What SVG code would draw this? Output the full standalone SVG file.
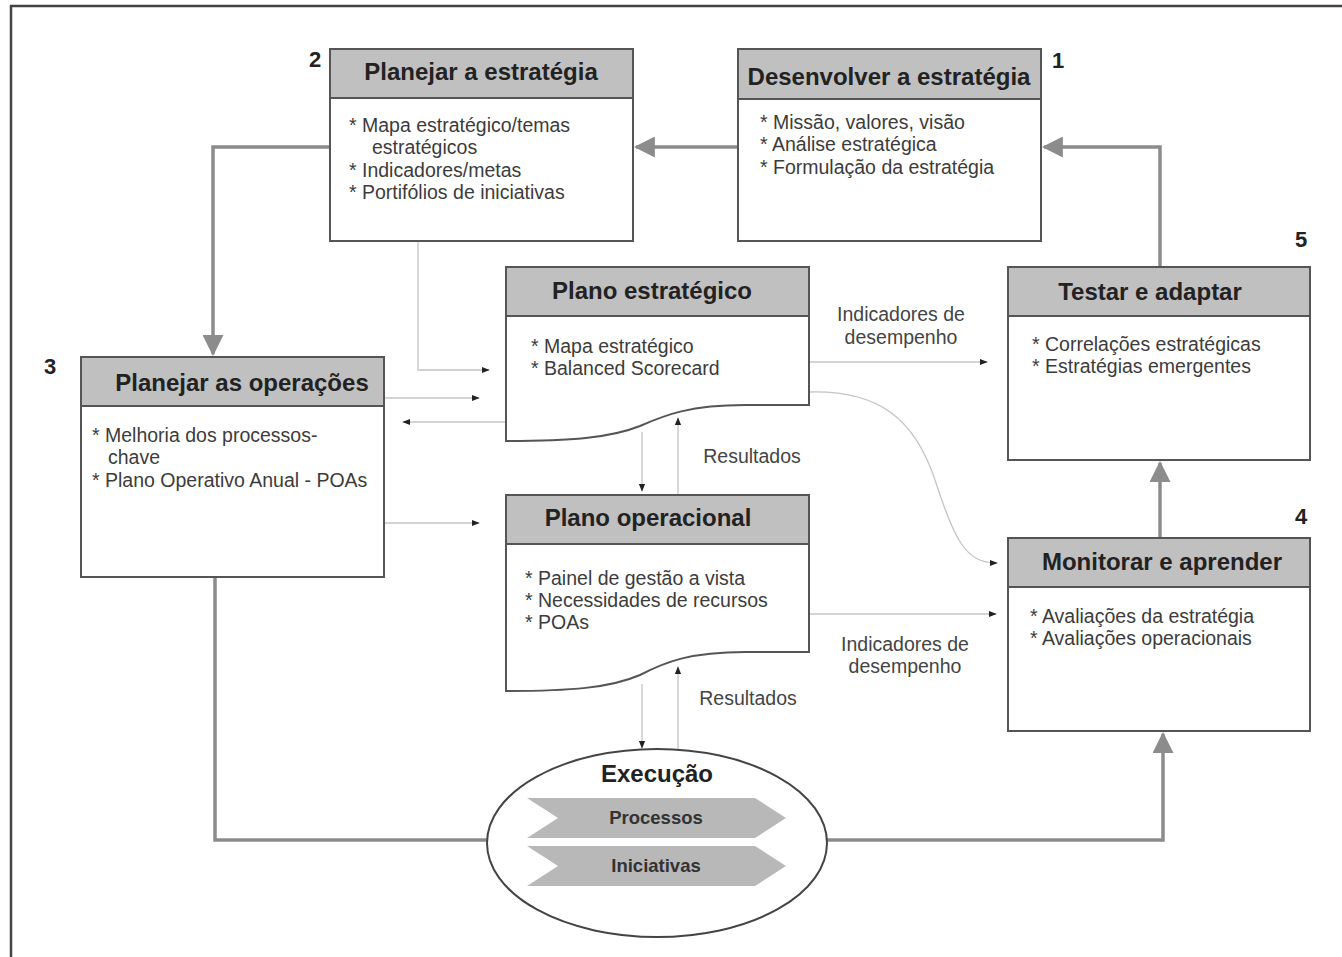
<svg xmlns="http://www.w3.org/2000/svg" width="1342" height="957" viewBox="0 0 1342 957">
  <defs>
    <style>
      .box { fill: #ffffff; stroke: #555555; stroke-width: 2; }
      .head { fill: #c0c0c0; stroke: #555555; stroke-width: 2; }
      .title { font-family: "Liberation Sans", Arial, sans-serif; font-weight: bold; font-size: 24px; fill: #222222; text-anchor: middle; }
      .item { font-family: "Liberation Sans", Arial, sans-serif; font-size: 19.5px; fill: #3c3c3c; }
      .label { font-family: "Liberation Sans", Arial, sans-serif; font-size: 19.5px; fill: #444444; text-anchor: middle; }
      .num { font-family: "Liberation Sans", Arial, sans-serif; font-weight: bold; font-size: 22px; fill: #222222; text-anchor: middle; }
      .thick { fill: none; stroke: #8c8c8c; stroke-width: 3.5; }
      .thin { fill: none; stroke: #c4c4c4; stroke-width: 1.3; }
      .chev { fill: #b8b8b8; }
      .chevtxt { font-family: "Liberation Sans", Arial, sans-serif; font-weight: bold; font-size: 18.5px; fill: #333333; text-anchor: middle; }
    </style>
    <marker id="bigArrow" viewBox="0 0 10 10" refX="9" refY="5" markerWidth="6" markerHeight="6" markerUnits="strokeWidth" orient="auto">
      <path d="M0,0 L10,5 L0,10 z" fill="#8c8c8c"/>
    </marker>
    <marker id="smallArrow" viewBox="0 0 10 10" refX="9" refY="5" markerWidth="7" markerHeight="6" markerUnits="strokeWidth" orient="auto">
      <path d="M0,1 L10,5 L0,9 z" fill="#222222"/>
    </marker>
  </defs>

  <rect x="0" y="0" width="1342" height="957" fill="#ffffff"/>
  <!-- page frame -->
  <path d="M11,957 L11,6 L1342,6" fill="none" stroke="#444444" stroke-width="2.5"/>

  <!-- connectors -->
  <g id="connectors">
    <!-- thick loop -->
    <path class="thick" d="M738,147 L636,147" marker-end="url(#bigArrow)"/>
    <path class="thick" d="M330,147 L213,147 L213,354" marker-end="url(#bigArrow)"/>
    <path class="thick" d="M1160,267 L1160,147 L1044,147" marker-end="url(#bigArrow)"/>
    <path class="thick" d="M1160,538 L1160,463" marker-end="url(#bigArrow)"/>
    <path class="thick" d="M215,577 L215,840 L487,840"/>
    <path class="thick" d="M827,840 L1163,840 L1163,734" marker-end="url(#bigArrow)"/>

    <!-- thin links -->
    <path class="thin" d="M418,241 L418,370 L489,370" marker-end="url(#smallArrow)"/>
    <path class="thin" d="M384,398 L479,398" marker-end="url(#smallArrow)"/>
    <path class="thin" d="M506,422 L403,422" marker-end="url(#smallArrow)"/>
    <path class="thin" d="M384,523 L479,523" marker-end="url(#smallArrow)"/>
    <path class="thin" d="M642,432 L642,491" marker-end="url(#smallArrow)"/>
    <path class="thin" d="M678,495 L678,418" marker-end="url(#smallArrow)"/>
    <path class="thin" d="M642,684 L642,748" marker-end="url(#smallArrow)"/>
    <path class="thin" d="M678,750 L678,667" marker-end="url(#smallArrow)"/>
    <path class="thin" d="M809,362 L987,362" marker-end="url(#smallArrow)"/>
    <path class="thin" d="M809,392 C880,390 915,420 935,480 C955,540 965,563 997,563" marker-end="url(#smallArrow)"/>
    <path class="thin" d="M809,614 L996,614" marker-end="url(#smallArrow)"/>

    <text class="label" x="901" y="321">Indicadores de</text>
    <text class="label" x="901" y="344">desempenho</text>
    <text class="label" x="905" y="651">Indicadores de</text>
    <text class="label" x="905" y="673">desempenho</text>
    <text class="label" x="752" y="463">Resultados</text>
    <text class="label" x="748" y="705">Resultados</text>
  </g>

  <!-- 1: Desenvolver a estrategia -->
  <g id="desenvolver">
    <rect class="box" x="738" y="49" width="303" height="192"/>
    <rect class="head" x="738" y="49" width="303" height="50"/>
    <text class="title" x="889" y="85">Desenvolver a estratégia</text>
    <text class="item" x="760" y="129">* Missão, valores, visão</text>
    <text class="item" x="760" y="151">* Análise estratégica</text>
    <text class="item" x="760" y="174">* Formulação da estratégia</text>
    <text class="num" x="1058" y="68">1</text>
  </g>

  <!-- 2: Planejar a estrategia -->
  <g id="planejar-estrategia">
    <rect class="box" x="330" y="49" width="303" height="192"/>
    <rect class="head" x="330" y="49" width="303" height="49"/>
    <text class="title" x="481" y="80">Planejar a estratégia</text>
    <text class="item" x="349" y="132">* Mapa estratégico/temas</text>
    <text class="item" x="372" y="154">estratégicos</text>
    <text class="item" x="349" y="177">* Indicadores/metas</text>
    <text class="item" x="349" y="199">* Portifólios de iniciativas</text>
    <text class="num" x="315" y="67">2</text>
  </g>

  <!-- 3: Planejar as operacoes -->
  <g id="planejar-operacoes">
    <rect class="box" x="81" y="357" width="303" height="220"/>
    <rect class="head" x="81" y="357" width="303" height="49"/>
    <text class="title" x="242" y="391">Planejar as operações</text>
    <text class="item" x="92" y="442">* Melhoria dos processos-</text>
    <text class="item" x="108" y="464">chave</text>
    <text class="item" x="92" y="487">* Plano Operativo Anual - POAs</text>
    <text class="num" x="50" y="374">3</text>
  </g>

  <!-- Plano estrategico (document) -->
  <g id="plano-estrategico">
    <path class="box" d="M506,267 L809,267 L809,405 L745,405 C690,405 665,415 640,426 C610,438 570,441 506,441 Z"/>
    <rect class="head" x="506" y="267" width="303" height="49"/>
    <text class="title" x="652" y="299">Plano estratégico</text>
    <text class="item" x="531" y="353">* Mapa estratégico</text>
    <text class="item" x="531" y="375">* Balanced Scorecard</text>
  </g>

  <!-- Plano operacional (document) -->
  <g id="plano-operacional">
    <path class="box" d="M506,495 L809,495 L809,652 L745,652 C690,652 665,662 640,675 C610,688 570,691 506,691 Z"/>
    <rect class="head" x="506" y="495" width="303" height="49"/>
    <text class="title" x="648" y="526">Plano operacional</text>
    <text class="item" x="525" y="585">* Painel de gestão a vista</text>
    <text class="item" x="525" y="607">* Necessidades de recursos</text>
    <text class="item" x="525" y="629">* POAs</text>
  </g>

  <!-- 5: Testar e adaptar -->
  <g id="testar">
    <rect class="box" x="1008" y="267" width="302" height="193"/>
    <rect class="head" x="1008" y="267" width="302" height="49"/>
    <text class="title" x="1150" y="300">Testar e adaptar</text>
    <text class="item" x="1032" y="351">* Correlações estratégicas</text>
    <text class="item" x="1032" y="373">* Estratégias emergentes</text>
    <text class="num" x="1301" y="247">5</text>
  </g>

  <!-- 4: Monitorar e aprender -->
  <g id="monitorar">
    <rect class="box" x="1008" y="538" width="302" height="193"/>
    <rect class="head" x="1008" y="538" width="302" height="49"/>
    <text class="title" x="1162" y="570">Monitorar e aprender</text>
    <text class="item" x="1030" y="623">* Avaliações da estratégia</text>
    <text class="item" x="1030" y="645">* Avaliações operacionais</text>
    <text class="num" x="1301" y="524">4</text>
  </g>

  <!-- Execucao -->
  <g id="execucao">
    <ellipse cx="657" cy="843" rx="170" ry="94" fill="#ffffff" stroke="#444444" stroke-width="2"/>
    <text class="title" x="657" y="782">Execução</text>
    <polygon class="chev" points="527,798 755,798 786,818 755,838 527,838 558,818"/>
    <text class="chevtxt" x="656" y="824">Processos</text>
    <polygon class="chev" points="527,846 755,846 786,866 755,886 527,886 558,866"/>
    <text class="chevtxt" x="656" y="872">Iniciativas</text>
  </g>
</svg>
